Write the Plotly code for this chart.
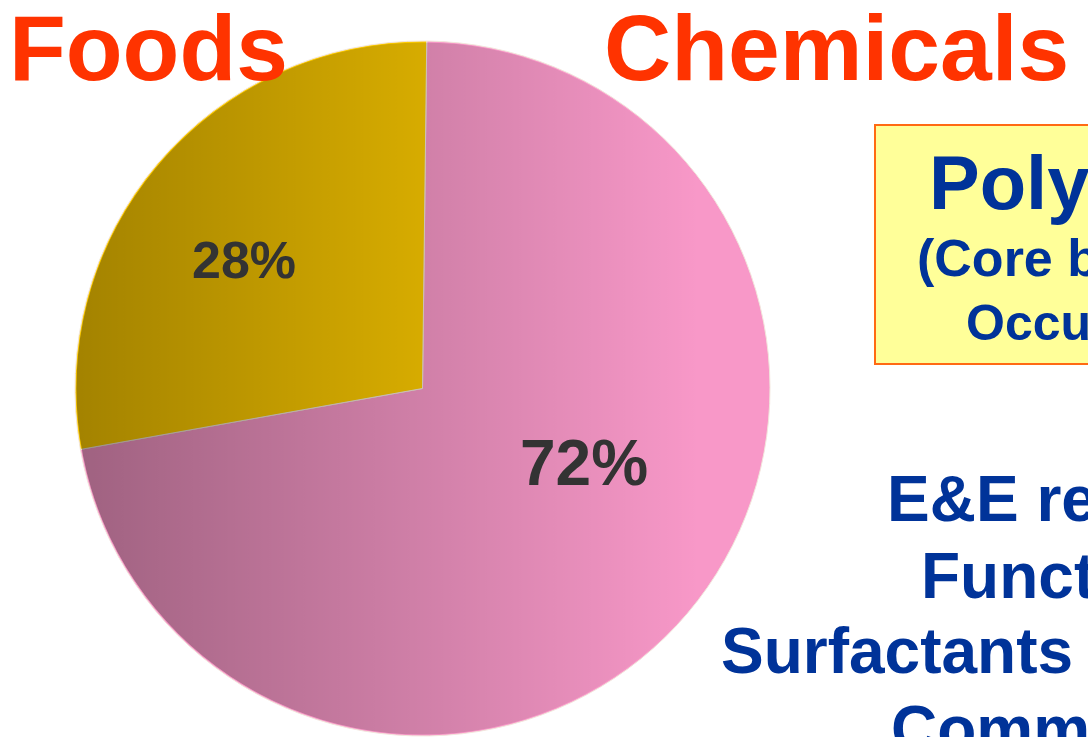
import base64
import plotly.graph_objects as go

# Share of business by segment
segments = ["Chemicals", "Foods"]
shares = [72, 28]
slice_colors = ["#F898C8", "#FFCC00"]

# Headline words and the side-panel text lines
headings = ["Foods", "Chemicals"]
box_lines = ["Poly", "(Core b", "Occu"]
side_lines = ["E&E re", "Funct", "Surfactants", "Comm"]

W, H = 1088, 737


def fx(px):
    return px / W


def fy(py):
    return 1 - py / H


# Pie geometry in pixels
cx, cy, r = 422.5, 388.5, 347.5

fig = go.Figure()
fig.add_trace(go.Pie(
    labels=segments,
    values=shares,
    sort=False,
    direction="clockwise",
    rotation=0.7,
    marker=dict(colors=slice_colors, line=dict(color="#F2E6DC", width=1)),
    textinfo="none",
    hoverinfo="label+percent",
    showlegend=False,
    domain=dict(x=[fx(cx - r), fx(cx + r)], y=[fy(cy + r), fy(cy - r)]),
))

# Left-to-right shading laid over the pie disc
shade_svg = (
    "<svg xmlns='http://www.w3.org/2000/svg' viewBox='0 0 100 100' preserveAspectRatio='none'>"
    "<defs><linearGradient id='g' x1='0' y1='0' x2='1' y2='0'>"
    "<stop offset='0' stop-color='#000' stop-opacity='0.36'/>"
    "<stop offset='0.9' stop-color='#000' stop-opacity='0'/>"
    "</linearGradient></defs>"
    "<circle cx='50' cy='50' r='49.8' fill='url(#g)'/></svg>"
)
shade_uri = "data:image/svg+xml;base64," + base64.b64encode(shade_svg.encode()).decode()
fig.add_layout_image(dict(
    source=shade_uri, xref="paper", yref="paper",
    x=fx(cx - r), y=fy(cy - r), sizex=2 * r / W, sizey=2 * r / H,
    xanchor="left", yanchor="top", sizing="stretch", layer="above",
))

font_family = "Liberation Sans, Arial, sans-serif"
annotations = []

# Percentage labels computed from the values
total = sum(shares)
pct_pos = {"Foods": (244, 260, 52), "Chemicals": (584, 463, 64)}
for seg, val in zip(segments, shares):
    x, y, size = pct_pos[seg]
    annotations.append(dict(
        text=f"{round(val / total * 100)}%", x=fx(x), y=fy(y),
        xanchor="center", yanchor="middle", showarrow=False,
        font=dict(family=font_family, size=size, color="#333333", weight="bold"),
    ))

# Headings
for txt, x in zip(headings, [7, 602]):
    annotations.append(dict(
        text=txt, x=fx(x), y=fy(48), xanchor="left", yanchor="middle",
        showarrow=False,
        font=dict(family=font_family, size=93, color="#FF3300", weight="bold"),
    ))

# Highlighted box text
box_specs = [(927, 182, 76), (915, 258, 52), (964, 323, 50)]
for txt, (x, y, size) in zip(box_lines, box_specs):
    annotations.append(dict(
        text=txt, x=fx(x), y=fy(y), xanchor="left", yanchor="middle",
        showarrow=False,
        font=dict(family=font_family, size=size, color="#003399", weight="bold"),
    ))

# Lower side text
side_specs = [(885, 499), (919, 576), (719, 651), (889, 729)]
for txt, (x, y) in zip(side_lines, side_specs):
    annotations.append(dict(
        text=txt, x=fx(x), y=fy(y), xanchor="left", yanchor="middle",
        showarrow=False,
        font=dict(family=font_family, size=64, color="#003399", weight="bold"),
    ))

fig.update_layout(
    width=W, height=H,
    margin=dict(l=0, r=0, t=0, b=0),
    paper_bgcolor="white",
    plot_bgcolor="white",
    annotations=annotations,
    shapes=[dict(
        type="rect", xref="paper", yref="paper",
        x0=fx(875), x1=fx(1100), y0=fy(364), y1=fy(125),
        fillcolor="#FFFF99", line=dict(color="#FF6A13", width=2), layer="below",
    )],
)

fig.write_html("out.html")
